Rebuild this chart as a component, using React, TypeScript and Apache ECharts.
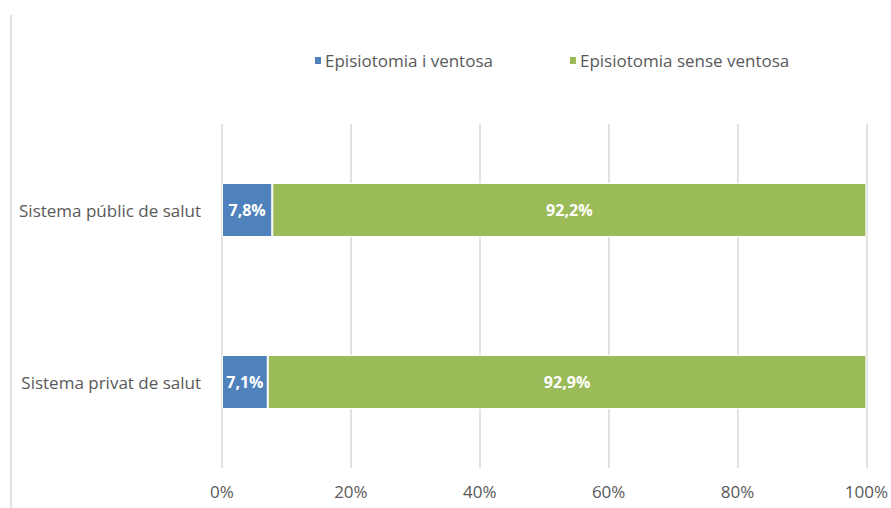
import React, { useEffect, useRef } from "react";
import * as echarts from "echarts";

const categories = ["Sistema privat de salut", "Sistema públic de salut"];
const seriesNames = ["Episiotomia i ventosa", "Episiotomia sense ventosa"];
const withVentosa = [7.1, 7.8];
const withoutVentosa = [92.9, 92.2];
const tickValues = [0, 20, 40, 60, 80, 100];

const fmt = (v: number) => v.toFixed(1).replace(".", ",") + "%";

export default function App() {
  const ref = useRef<HTMLDivElement>(null);
  useEffect(() => {
    if (!ref.current) return;
    const chart = echarts.init(ref.current, null, { renderer: "svg" });
    const font = "'Open Sans', 'Noto Sans', sans-serif";
    const labelCfg = {
      show: true,
      position: "inside",
      color: "#ffffff",
      fontWeight: "bold",
      fontSize: 16,
      formatter: (p: any) => fmt(p.value),
    };
    chart.setOption({
      animation: false,
      backgroundColor: "#ffffff",
      textStyle: { fontFamily: font },
      legend: {
        top: 52,
        left: 313,
        padding: 0,
        itemWidth: 8,
        itemHeight: 9,
        itemGap: 75,
        icon: "rect",
        textStyle: { color: "#595959", fontSize: 17, fontFamily: font, padding: [0, 0, 0, -2] },
        data: seriesNames,
      },
      grid: { left: 222, right: 21, top: 124, bottom: 40, containLabel: false },
      xAxis: {
        type: "value",
        min: 0,
        max: 100,
        interval: 20,
        axisLine: { show: false },
        axisTick: { show: false },
        splitLine: { lineStyle: { color: "#d9d9d9", width: 1.5 } },
        axisLabel: {
          color: "#595959",
          fontSize: 17,
          margin: 15,
          formatter: (v: number) => (tickValues.includes(v) ? v + "%" : ""),
        },
      },
      yAxis: {
        type: "category",
        data: categories,
        axisLine: { show: false },
        axisTick: { show: false },
        axisLabel: { color: "#595959", fontSize: 17, margin: 21 },
      },
      graphic: [
        {
          type: "line",
          shape: { x1: 11, y1: 15, x2: 11, y2: 508 },
          style: { stroke: "#e3e3e3", lineWidth: 2 },
        },
      ],
      series: [
        {
          name: seriesNames[0],
          type: "bar",
          stack: "total",
          barWidth: 54,
          data: withVentosa,
          itemStyle: { color: "#4F81BD", borderColor: "#ffffff", borderWidth: 1 },
          label: labelCfg,
        },
        {
          name: seriesNames[1],
          type: "bar",
          stack: "total",
          barWidth: 54,
          data: withoutVentosa,
          itemStyle: { color: "#9BBB59", borderColor: "#ffffff", borderWidth: 1 },
          label: labelCfg,
        },
      ],
    });
    return () => chart.dispose();
  }, []);
  return <div ref={ref} style={{ width: 891, height: 508, position: "absolute", left: 0, top: 0 }} />;
}
